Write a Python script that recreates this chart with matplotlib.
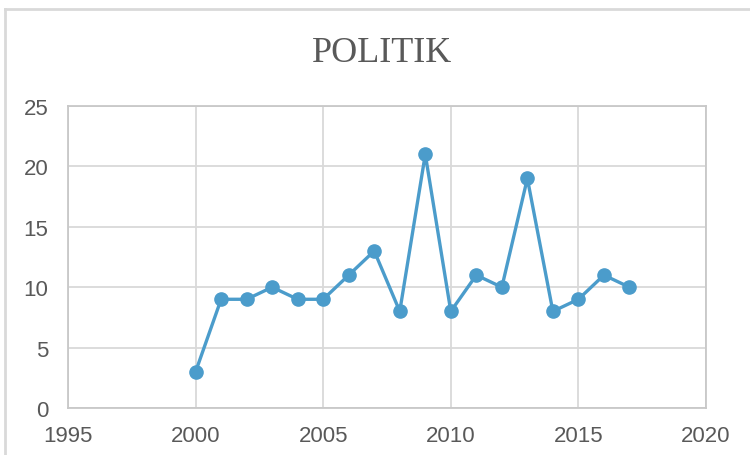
import matplotlib
matplotlib.use("Agg")
import matplotlib.pyplot as plt
from matplotlib.lines import Line2D

years = [2000, 2001, 2002, 2003, 2004, 2005, 2006, 2007, 2008, 2009,
         2010, 2011, 2012, 2013, 2014, 2015, 2016, 2017]
values = [3, 9, 9, 10, 9, 9, 11, 13, 8, 21, 8, 11, 10, 19, 8, 9, 11, 10]
x_ticks = [1995, 2000, 2005, 2010, 2015, 2020]
y_ticks = [0, 5, 10, 15, 20, 25]
title = "POLITIK"

W, H = 750, 456
fig = plt.figure(figsize=(W / 100, H / 100), dpi=100)
fig.patch.set_facecolor("white")

# outer chart border (left and top visible)
fig.add_artist(Line2D([5 / W, 5 / W], [0, 1 - 10 / H], transform=fig.transFigure,
                      color="#d9d9d9", lw=2))
fig.add_artist(Line2D([5 / W, 1], [1 - 10 / H, 1 - 10 / H], transform=fig.transFigure,
                      color="#d9d9d9", lw=2))

left, right, top, bottom = 68, 706, 107, 409
ax = fig.add_axes([left / W, 1 - bottom / H, (right - left) / W, (bottom - top) / H])

ax.plot(years, values, color="#4B9CCB", lw=2.4, marker="o", markersize=9.5,
        zorder=3, clip_on=False)

ax.set_xlim(1995, 2020)
ax.set_ylim(0, 25)
ax.set_xticks(x_ticks)
ax.set_yticks(y_ticks)
ax.grid(True, color="#d9d9d9", lw=1.3)
ax.set_axisbelow(True)
for s in ax.spines.values():
    s.set_color("#c8c8c8")
    s.set_linewidth(1.3)
ax.tick_params(length=0, labelsize=16, labelcolor="#595959")
ax.tick_params(axis="x", pad=12)
ax.tick_params(axis="y", pad=14)
for lab in ax.get_xticklabels() + ax.get_yticklabels():
    lab.set_fontfamily("Liberation Sans")

fig.text(382 / W, 1 - 53 / H, title, ha="center", va="center",
         fontsize=26, color="#595959", fontfamily="Liberation Serif")

fig.savefig("out.png", dpi=100)
